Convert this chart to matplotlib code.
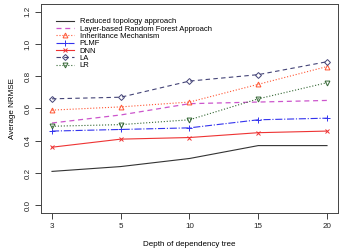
import matplotlib
matplotlib.use('Agg')
import matplotlib.pyplot as plt

plt.rcParams['font.family'] = ['Liberation Sans', 'DejaVu Sans']

depth = ['3', '5', '10', '15', '20']
reduced = [0.21, 0.24, 0.29, 0.37, 0.37]
lrf = [0.51, 0.56, 0.63, 0.64, 0.65]
inherit = [0.59, 0.61, 0.64, 0.75, 0.86]
plmf = [0.46, 0.47, 0.48, 0.53, 0.54]
dnn = [0.36, 0.41, 0.42, 0.45, 0.46]
la = [0.66, 0.67, 0.77, 0.81, 0.89]
lr = [0.49, 0.50, 0.53, 0.66, 0.76]

x = list(range(1, len(depth) + 1))

fig = plt.figure(figsize=(3.49, 2.49), dpi=100)
ax = fig.add_axes([41/349, 1 - 213/249, (338-41)/349, (213-4)/249])

ms = 3.5
ax.plot(x, reduced, color='#333333', lw=0.8, label='Reduced topology approach')
ax.plot(x, lrf, color='#cc55cc', lw=0.9, ls=(0, (4, 3)), label='Layer-based Random Forest Approach')
ax.plot(x, inherit, color='#ff5533', lw=0.8, ls=':', marker='^', ms=ms, mfc='none', mew=0.7,
        label='Inheritance Mechanism')
ax.plot(x, plmf, color='#3333ee', lw=0.8, ls='-.', marker='+', ms=ms + 1, mew=0.7, label='PLMF')
ax.plot(x, dnn, color='#ee3333', lw=0.8, marker='x', ms=ms, mew=0.7, label='DNN')
ax.plot(x, la, color='#444477', lw=0.8, ls=(0, (4, 3)), marker='D', ms=ms - 0.5, mfc='none', mew=0.7,
        label='LA')
ax.plot(x, lr, color='#336633', lw=0.8, ls=':', marker='v', ms=ms, mfc='none', mew=0.7, label='LR')

ax.set_xlim(0.84, 5.16)
ax.set_ylim(-0.048, 1.248)
ax.set_xticks(x)
ax.set_xticklabels(depth)
ax.set_yticks([0.0, 0.2, 0.4, 0.6, 0.8, 1.0, 1.2])
ax.set_yticklabels(['0.0', '0.2', '0.4', '0.6', '0.8', '1.0', '1.2'], rotation=90, va='center')
ax.tick_params(labelsize=5.8, length=4, width=0.6, direction='out', pad=3, colors='#222222')
for s in ax.spines.values():
    s.set_linewidth(0.7)
    s.set_color('#444444')

ax.set_xlabel('Depth of dependency tree', fontsize=5.8, labelpad=8)
ax.set_ylabel('Average NRMSE', fontsize=5.8, labelpad=6)

ax.legend(loc='upper left', bbox_to_anchor=(0.035, 0.955), frameon=False, fontsize=5.5,
          handlelength=2.3, labelspacing=0.0, handletextpad=0.8, borderaxespad=0.2)

fig.savefig('out.png', dpi=100)
